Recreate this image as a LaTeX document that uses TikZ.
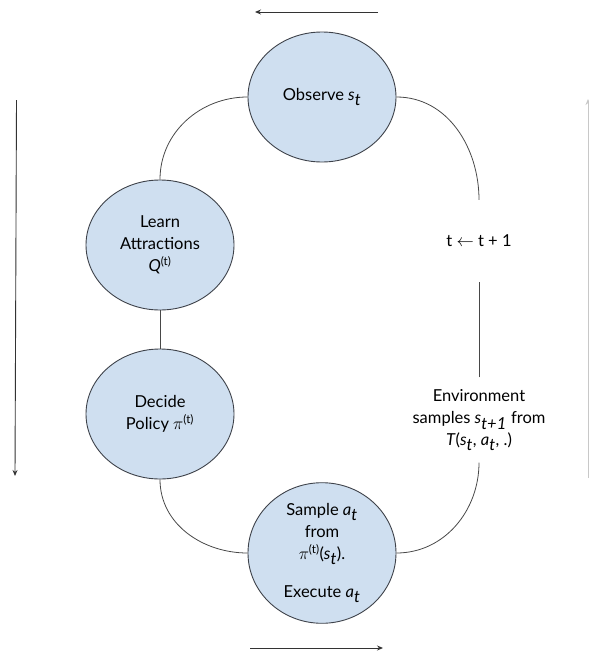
\documentclass[tikz,border=0pt]{standalone}
\usepackage{fontspec}
\setmainfont{Lato}
\usetikzlibrary{positioning,shapes.geometric,arrows.meta}
\definecolor{ink}{RGB}{62,66,74}
\definecolor{cStage}{RGB}{207,223,240}
\definecolor{edge}{RGB}{72,72,72}
\definecolor{faint}{RGB}{200,200,200}
\newcommand{\ivar}[2]{\textit{#1}$_{\textit{#2}}$}

\begin{document}
\begin{tikzpicture}[
  x=1pt, y=1pt,
  font=\fontsize{16.5}{22}\selectfont,
  >={Stealth[length=6pt,width=5pt]},
  stage/.style={ellipse, draw=ink, line width=0.9pt, fill=cStage, minimum width=148pt, minimum height=130pt, inner sep=0pt, align=center},
  link/.style={draw=edge, line width=0.8pt},
  note/.style={align=center, inner sep=0pt},
  flow/.style={->, draw=black!80, line width=0.9pt},
]
\useasboundingbox (0,0) rectangle (589,-656);

% ---- the four stages ----
\node[stage] (OBS) at (322,-97) {Observe \ivar{s}{t}};
\node[stage] (LRN) at (160,-245) {Learn\\Attractions\\\textit{Q}\textsuperscript{(t)}};
\node[stage] (DEC) at (160,-414) {Decide\\Policy $\pi$\textsuperscript{(t)}};
\node[stage] (SMP) at (322,-553) {Sample \ivar{a}{t}\\from\\$\pi$\textsuperscript{(t)}(\ivar{s}{t}).\\[16pt]Execute \ivar{a}{t}};

% ---- environment side (text only) ----
\node[note, minimum height=82pt] (TICK) at (479,-241) {t $\leftarrow$ t + 1};
\node[note, minimum height=85pt] (ENV) at (479,-420) {Environment\\samples \ivar{s}{t+1} from\\\textit{T}(\ivar{s}{t}, \ivar{a}{t}, .)};

% ---- the loop ----
\draw[link] (OBS.west) to[out=180,in=90] (LRN.north);
\draw[link] (LRN.south) -- (DEC.north);
\draw[link] (DEC.south) to[out=-90,in=180] (SMP.west);
\draw[link] (SMP.east) to[out=0,in=-90] (ENV.south);
\draw[link] (ENV.north) -- (TICK.south);
\draw[link] (OBS.east) to[out=0,in=90] (TICK.north);

% ---- direction arrows round the frame ----
\coordinate (topR) at (378,-12);
\coordinate (topL) at (255,-12);
\coordinate (botL) at (250,-648);
\coordinate (botR) at (383,-648);
\coordinate (lftT) at (16.5,-100);
\coordinate (lftB) at (15,-476);
\coordinate (rgtB) at (588,-478);
\coordinate (rgtT) at (588,-99);
\draw[flow] (topR) -- (topL);
\draw[flow] (botL) -- (botR);
\draw[flow] (lftT) -- (lftB);
\draw[flow, draw=faint] (rgtB) -- (rgtT);

\end{tikzpicture}
\end{document}
